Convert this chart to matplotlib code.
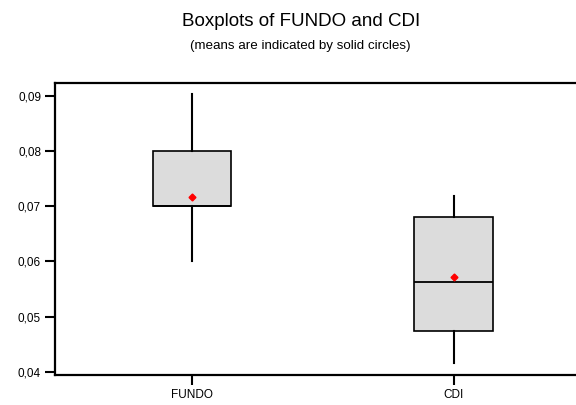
import matplotlib.pyplot as plt

plt.rcParams["font.family"] = ["Liberation Sans", "DejaVu Sans"]

# Data
labels = ["FUNDO", "CDI"]
whislo = [0.0600, 0.0416]
q1 = [0.0700, 0.0473]
med = [0.0700, 0.0562]
q3 = [0.0800, 0.0681]
whishi = [0.0904, 0.0718]
means = [0.0717, 0.0571]
yticks = [0.04, 0.05, 0.06, 0.07, 0.08, 0.09]

stats = [
    dict(label=labels[i], whislo=whislo[i], q1=q1[i], med=med[i],
         q3=q3[i], whishi=whishi[i], mean=means[i], fliers=[])
    for i in range(len(labels))
]

fig = plt.figure(figsize=(5.76, 4.05), dpi=100)
ax = fig.add_axes([0.0955, 0.074, 0.93, 0.721])

ax.bxp(
    stats,
    positions=[1, 2],
    widths=0.30,
    patch_artist=True,
    showmeans=True,
    showcaps=False,
    boxprops=dict(facecolor="#dcdcdc", edgecolor="black", linewidth=1.2),
    medianprops=dict(color="black", linewidth=1.3),
    whiskerprops=dict(color="black", linewidth=1.5),
    meanprops=dict(marker="D", markerfacecolor="red", markeredgecolor="red",
                   markersize=3.5),
)

ax.set_xlim(0.475, 2.525)
ax.set_ylim(0.0394, 0.09236)
ax.set_yticks(yticks)
ax.set_yticklabels([f"{v:.2f}".replace(".", ",") for v in yticks])
ax.set_xticks([1, 2])
ax.set_xticklabels(labels)
ax.tick_params(axis="both", labelsize=8.5, width=1.5, length=7,
               direction="out", pad=3)
for s in ax.spines.values():
    s.set_linewidth(1.6)

fig.text(0.523, 0.948, "Boxplots of FUNDO and CDI", ha="center", va="center",
         fontsize=13.5)
fig.text(0.521, 0.886, "(means are indicated by solid circles)", ha="center",
         va="center", fontsize=9.6)

fig.savefig("out.png")
